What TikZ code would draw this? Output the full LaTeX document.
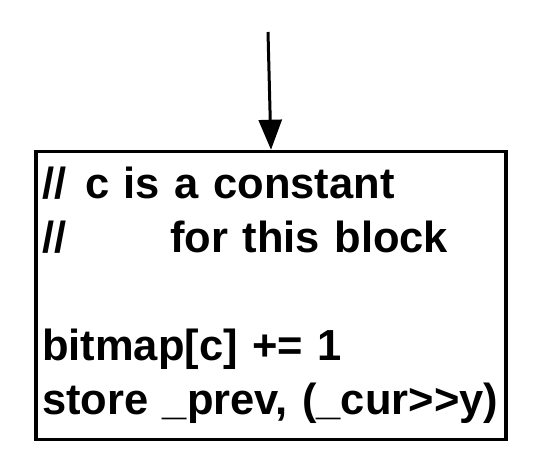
\documentclass[tikz,border=0pt]{standalone}
\usepackage{fontspec}
\setmainfont{Liberation Sans}
\usetikzlibrary{arrows.meta}
\tikzset{
	codebox/.style={draw, line width=3.5pt, text width=458pt, minimum height=288pt, inner xsep=6pt, inner ysep=6pt, align=left, font=\fontsize{43.5}{54}\selectfont\bfseries},
	flow/.style={line width=3pt, -{Triangle[length=30pt, width=23pt]}}
}
\begin{document}
\begin{tikzpicture}[x=1pt, y=-1pt]
		\useasboundingbox (0.0, 0.0) rectangle (544.0, 466.0);
		\node[codebox] (blk) at (271.0, 295.5) {//\hspace{19pt}c is a constant\\//\hspace{104pt}for this block\\[54pt]bitmap[c] += 1\\store \_prev, (\_cur>{}>y)};
		\coordinate (src) at (268.0, 32.0);
		\draw[flow] (src) -- (blk.north);
	\end{tikzpicture}
\end{document}
